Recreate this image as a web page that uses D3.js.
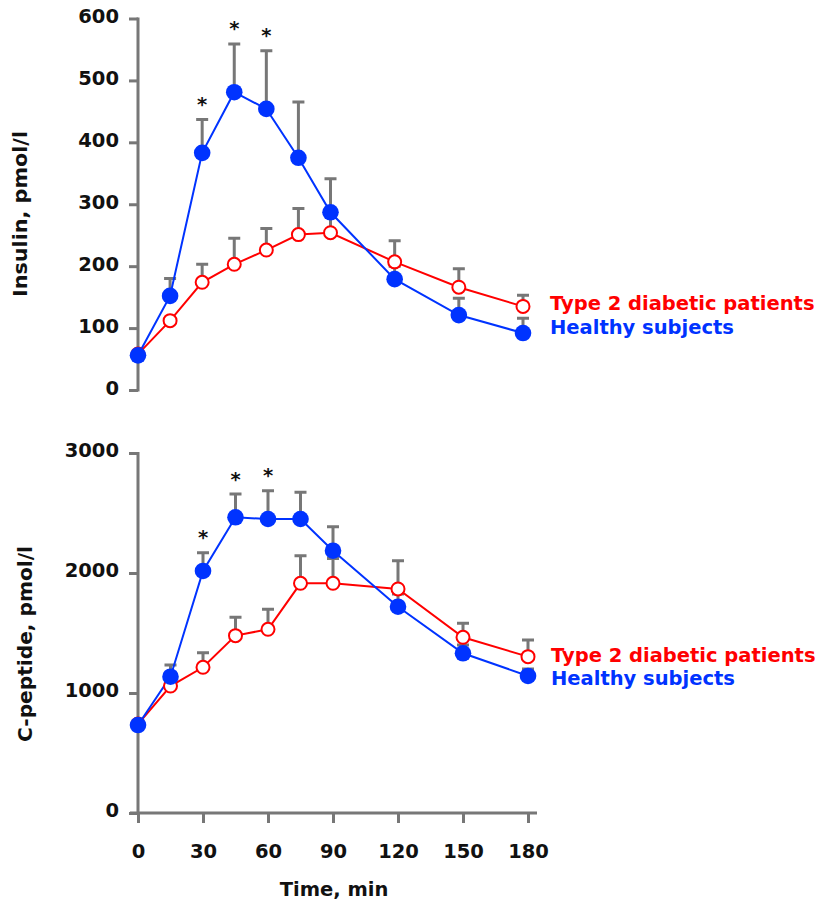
<!DOCTYPE html>
<html>
<head>
<meta charset="utf-8">
<script src="https://cdn.jsdelivr.net/npm/d3@7"></script>
<style>
  html, body { margin: 0; padding: 0; background: #fff; }
  svg text { font-family: "DejaVu Sans", Verdana, sans-serif; font-weight: bold; }
</style>
</head>
<body>
<svg id="chart" width="823" height="900"></svg>
<script>
// ---- data ----
const times = [0, 15, 30, 45, 60, 75, 90, 120, 150, 180];
const xTicks = [0, 30, 60, 90, 120, 150, 180];

const insulinHealthy      = [56, 152, 383, 481, 454, 375, 287, 179, 121, 92];
const insulinHealthyUpper = [56, 180, 437, 559, 548, 465, 341, 200, 148, 116];
const insulinT2D          = [58, 112, 174, 203, 226, 251, 254, 207, 166, 135];
const insulinT2DUpper     = [58, 112, 203, 245, 261, 293, 285, 241, 196, 153];
const insulinTicks = [0, 100, 200, 300, 400, 500, 600];

const cpepHealthy      = [733, 1136, 2017, 2464, 2450, 2450, 2186, 1719, 1331, 1142];
const cpepHealthyUpper = [733, 1233, 2169, 2658, 2686, 2672, 2386, 1825, 1400, 1200];
const cpepT2D          = [741, 1058, 1214, 1478, 1531, 1914, 1914, 1867, 1464, 1303];
const cpepT2DUpper     = [741, 1100, 1336, 1631, 1697, 2144, 2120, 2103, 1581, 1442];
const cpepTicks = [0, 1000, 2000, 3000];

const significant = [30, 45, 60];
const seriesNames = ["Type 2 diabetic patients", "Healthy subjects"];

// ---- styles ----
const RED = "#ff0000", BLUE = "#0033ff", GRAY = "#777777";
const FS = 19.5;

const svg = d3.select("#chart");

function panel(opts) {
  const g = svg.append("g");
  const x = d3.scaleLinear().domain([0, 180]).range(opts.xRange);
  const y = d3.scaleLinear().domain(opts.yDomain).range(opts.yRange);
  const x0 = opts.xRange[0];

  // y axis
  const yAxis = d3.axisLeft(y).tickValues(opts.yTicks).tickFormat(d3.format("d"))
    .tickSize(9).tickSizeOuter(0).tickPadding(10);
  const ya = g.append("g").attr("transform", `translate(${x0},0)`).call(yAxis);
  ya.select(".domain").attr("stroke", GRAY).attr("stroke-width", 3)
    .attr("d", `M0,${opts.yRange[0] + 1.5}V${opts.yRange[1] - 1}`);
  ya.selectAll(".tick line").attr("stroke", GRAY).attr("stroke-width", 3);
  ya.selectAll(".tick text").attr("fill", "#111").attr("font-size", FS)
    .attr("dy", opts.labelDy).attr("font-family", "DejaVu Sans").attr("font-weight", "bold");

  if (opts.showX) {
    const xAxis = d3.axisBottom(x).tickValues(xTicks).tickFormat(d3.format("d"))
      .tickSize(10).tickSizeOuter(0).tickPadding(31);
    const xa = g.append("g").attr("transform", `translate(0,${opts.yRange[0]})`).call(xAxis);
    xa.select(".domain").attr("stroke", GRAY).attr("stroke-width", 3)
      .attr("d", `M${x0 - 8},0H${opts.xRange[1] + 9}`);
    xa.selectAll(".tick line").attr("stroke", GRAY).attr("stroke-width", 3);
    xa.selectAll(".tick text").attr("fill", "#111").attr("font-size", FS)
      .attr("font-family", "DejaVu Sans").attr("font-weight", "bold").attr("dy", "0.2em");
    g.append("text").attr("x", (opts.xRange[0] + opts.xRange[1]) / 2 + 1).attr("y", 896)
      .attr("text-anchor", "middle").attr("font-size", FS).attr("fill", "#111").text("Time, min");
  }

  // y label
  g.append("text")
    .attr("transform", `translate(${opts.ylabX},${opts.ylabY}) rotate(-90)`)
    .attr("text-anchor", "middle").attr("font-size", FS).attr("fill", "#111")
    .attr("textLength", opts.ylabLen).attr("lengthAdjust", "spacingAndGlyphs")
    .text(opts.ylabel);

  const mk = (vals, up) => times.map((t, i) => ({ t, v: vals[i], u: up[i] }));
  const healthy = mk(opts.healthy, opts.healthyUp);
  const t2d = mk(opts.t2d, opts.t2dUp);

  function errorBars(data) {
    const eg = g.append("g").attr("stroke", GRAY).attr("stroke-width", 3).attr("fill", "none");
    eg.selectAll("path").data(data.filter(d => d.u > d.v)).join("path")
      .attr("d", d => `M${x(d.t)},${y(d.v)}V${y(d.u)}M${x(d.t) - 6},${y(d.u)}H${x(d.t) + 6}`);
  }
  errorBars(t2d);
  errorBars(healthy);

  const line = d3.line().x(d => x(d.t)).y(d => y(d.v));
  g.append("path").datum(t2d).attr("d", line).attr("fill", "none").attr("stroke", RED).attr("stroke-width", 2);
  g.append("path").datum(healthy).attr("d", line).attr("fill", "none").attr("stroke", BLUE).attr("stroke-width", 2);

  g.append("g").selectAll("circle").data(t2d).join("circle")
    .attr("cx", d => x(d.t)).attr("cy", d => y(d.v)).attr("r", 6.5)
    .attr("fill", "#fff").attr("stroke", RED).attr("stroke-width", 2);
  g.append("g").selectAll("circle").data(healthy).join("circle")
    .attr("cx", d => x(d.t)).attr("cy", d => y(d.v)).attr("r", 8.3)
    .attr("fill", BLUE);

  // significance stars
  g.append("g").selectAll("text").data(healthy.filter(d => significant.includes(d.t))).join("text")
    .attr("x", d => x(d.t)).attr("y", d => y(d.u) - 19 + 10.5)
    .attr("text-anchor", "middle").attr("font-size", FS).attr("fill", "#111").text("*");

  // legend
  g.append("text").attr("x", opts.legX).attr("y", opts.legY[0]).attr("font-size", FS)
    .attr("fill", RED).text(seriesNames[0]);
  g.append("text").attr("x", opts.legX).attr("y", opts.legY[1]).attr("font-size", FS)
    .attr("fill", BLUE).text(seriesNames[1]);
}

panel({
  xRange: [138, 523], yDomain: [0, 600], yRange: [390, 18.5], yTicks: insulinTicks,
  labelDy: 10.5 - 0.32 * FS, showX: false,
  ylabel: "Insulin, pmol/l", ylabX: 27, ylabY: 214, ylabLen: 166,
  healthy: insulinHealthy, healthyUp: insulinHealthyUpper,
  t2d: insulinT2D, t2dUp: insulinT2DUpper,
  legX: 550, legY: [310, 334]
});

panel({
  xRange: [138, 528], yDomain: [0, 3000], yRange: [813, 453], yTicks: cpepTicks,
  labelDy: 9.5 - 0.32 * FS, showX: true,
  ylabel: "C-peptide, pmol/l", ylabX: 32, ylabY: 644, ylabLen: 196,
  healthy: cpepHealthy, healthyUp: cpepHealthyUpper,
  t2d: cpepT2D, t2dUp: cpepT2DUpper,
  legX: 551, legY: [662, 685]
});
</script>
</body>
</html>
